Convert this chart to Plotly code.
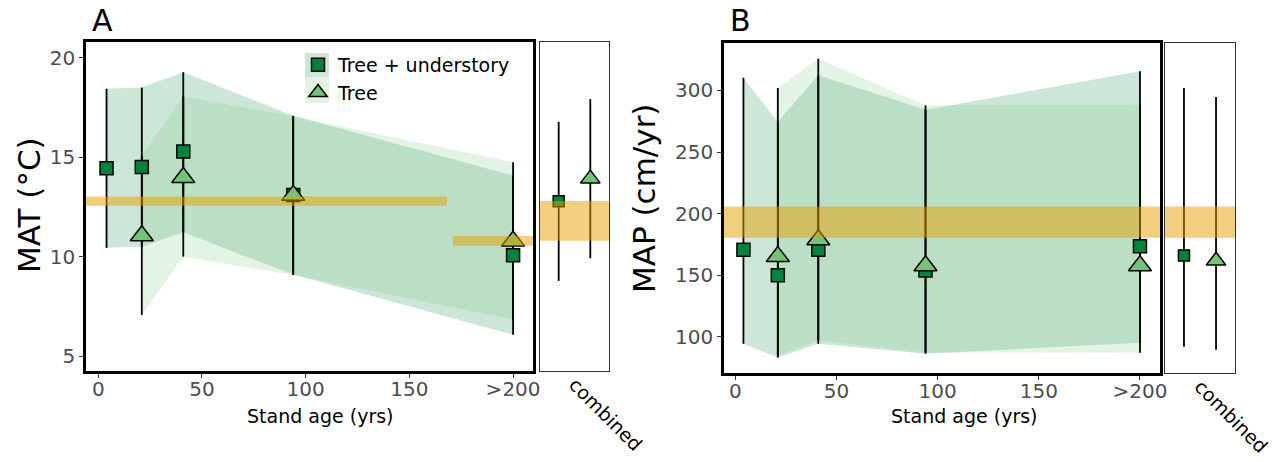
import plotly.graph_objects as go

# ---------------- data ----------------
AGES = [4, 21, 41, 94, 200]
AGES_TREE = [21, 41, 94, 200]
AGE_TICKS = [0, 50, 100, 150, 200]
AGE_TICK_LABELS = ["0", "50", "100", "150", ">200"]

MAT_TU_MEAN = [14.44, 14.50, 15.28, 13.10, 10.07]
MAT_TU_LO = [10.44, 10.50, 11.22, 9.10, 6.07]
MAT_TU_HI = [18.44, 18.50, 19.27, 17.08, 14.07]
MAT_T_MEAN = [11.05, 13.98, 13.08, 10.78]
MAT_T_LO = [7.07, 10.00, 9.08, 6.84]
MAT_T_HI = [15.07, 18.05, 17.05, 14.75]
MAT_COMB_TU = [12.78, 8.78, 16.78]   # mean, lo, hi
MAT_COMB_T = [13.92, 9.92, 17.92]
MAT_REF_FROM = [-10, 171]
MAT_REF_TO = [168, 220]
MAT_REF_LO = [12.56, 10.55]
MAT_REF_HI = [13.02, 11.04]
MAT_COMB_REF = [10.8, 12.8]
MAT_TICKS = [5, 10, 15, 20]

MAP_TU_MEAN = [170.8, 150.0, 170.8, 154.0, 173.5]
MAP_TU_LO = [94.6, 83.3, 94.6, 86.5, 95.4]
MAP_TU_HI = [310.3, 274.3, 312.2, 284.3, 315.4]
MAP_T_MEAN = [165.3, 178.9, 157.8, 157.8]
MAP_T_LO = [85.2, 97.3, 87.5, 87.3]
MAP_T_HI = [301.9, 325.7, 287.8, 288.4]
MAP_COMB_TU = [166.0, 92.0, 301.9]
MAP_COMB_T = [161.8, 89.7, 294.6]
MAP_REF_FROM = [-10]
MAP_REF_TO = [220]
MAP_REF_LO = [180.5]
MAP_REF_HI = [205.9]
MAP_COMB_REF = [180.5, 205.9]
MAP_TICKS = [100, 150, 200, 250, 300]

SERIES = ["Tree + understory", "Tree"]
COMB_LABEL = "combined"

# ---------------- style ----------------
FONT = "DejaVu Sans"
C_TU = "#00843D"
C_T = "#74C476"
RIB_TU = "rgba(0,132,61,0.2)"
RIB_T = "rgba(116,196,118,0.2)"
REF = "rgba(230,159,0,0.5)"
X_RANGE_A = [-5.9, 209.6]
X_RANGE_B = [-5.6, 209.9]
Y_RANGE_A = [4.25, 20.79]
Y_RANGE_B = [70.8, 338.4]
COMB_RANGE = [0.4, 1.6]
COMB_X = 1.0
DODGE = 0.275

fig = go.Figure()


def ribbon(xs, lo, hi, color, xa, ya):
    fig.add_trace(go.Scatter(
        x=list(xs) + list(xs)[::-1], y=list(hi) + list(lo)[::-1],
        mode="lines", fill="toself", fillcolor=color, line=dict(width=0),
        showlegend=False, hoverinfo="skip", xaxis=xa, yaxis=ya))


def errbars(xs, mean, lo, hi, xa, ya):
    fig.add_trace(go.Scatter(
        x=xs, y=mean, mode="markers", marker=dict(size=2, opacity=0),
        error_y=dict(type="data", symmetric=False,
                     array=[h - m for h, m in zip(hi, mean)],
                     arrayminus=[m - l for l, m in zip(lo, mean)],
                     color="black", thickness=1.8, width=0),
        showlegend=False, hoverinfo="skip", xaxis=xa, yaxis=ya))


def points(xs, mean, symbol, size, color, name, legend, xa, ya):
    fig.add_trace(go.Scatter(
        x=xs, y=mean, mode="markers", name=name, showlegend=legend,
        marker=dict(symbol=symbol, size=size, color=color,
                    line=dict(color="black", width=1.5)),
        xaxis=xa, yaxis=ya))


def band(x0s, x1s, los, his, xa, ya):
    for x0, x1, lo, hi in zip(x0s, x1s, los, his):
        fig.add_trace(go.Scatter(
            x=[x0, x1, x1, x0, x0], y=[lo, lo, hi, hi, lo],
            mode="lines", fill="toself", fillcolor=REF, line=dict(width=0),
            showlegend=False, hoverinfo="skip", xaxis=xa, yaxis=ya))


def panel(tu_m, tu_lo, tu_hi, t_m, t_lo, t_hi, c_tu, c_t,
          ref_from, ref_to, ref_lo, ref_hi, comb_ref, xa, ya, xc, yc, legend):
    ribbon(AGES, tu_lo, tu_hi, RIB_TU, xa, ya)
    ribbon(AGES_TREE, t_lo, t_hi, RIB_T, xa, ya)
    errbars(AGES, tu_m, tu_lo, tu_hi, xa, ya)
    errbars(AGES_TREE, t_m, t_lo, t_hi, xa, ya)
    points(AGES, tu_m, "square", 13, C_TU, SERIES[0], legend, xa, ya)
    points(AGES_TREE, t_m, "triangle-up", 20, C_T, SERIES[1], legend, xa, ya)
    band(ref_from, ref_to, ref_lo, ref_hi, xa, ya)
    # combined panel
    cx = [COMB_X - DODGE, COMB_X + DODGE]
    errbars([cx[0]], [c_tu[0]], [c_tu[1]], [c_tu[2]], xc, yc)
    errbars([cx[1]], [c_t[0]], [c_t[1]], [c_t[2]], xc, yc)
    points([cx[0]], [c_tu[0]], "square", 11, C_TU, SERIES[0], False, xc, yc)
    points([cx[1]], [c_t[0]], "triangle-up", 17, C_T, SERIES[1], False, xc, yc)
    band([COMB_RANGE[0] - 1], [COMB_RANGE[1] + 1], [comb_ref[0]], [comb_ref[1]], xc, yc)


panel(MAT_TU_MEAN, MAT_TU_LO, MAT_TU_HI, MAT_T_MEAN, MAT_T_LO, MAT_T_HI,
      MAT_COMB_TU, MAT_COMB_T, MAT_REF_FROM, MAT_REF_TO, MAT_REF_LO, MAT_REF_HI,
      MAT_COMB_REF, "x", "y", "x2", "y2", True)
panel(MAP_TU_MEAN, MAP_TU_LO, MAP_TU_HI, MAP_T_MEAN, MAP_T_LO, MAP_T_HI,
      MAP_COMB_TU, MAP_COMB_T, MAP_REF_FROM, MAP_REF_TO, MAP_REF_LO, MAP_REF_HI,
      MAP_COMB_REF, "x3", "y3", "x4", "y4", False)

W, H = 1280, 462


def px(a, b):
    return [a / W, b / W]


def py(top, bottom):
    return [1 - bottom / H, 1 - top / H]


tickfont = dict(family=FONT, size=20, color="#4d4d4d")
main_x = dict(showgrid=False, zeroline=False, showline=True, mirror=True, automargin=False,
              linecolor="black", linewidth=2.5, ticks="outside", ticklen=4,
              tickcolor="#333333", tickvals=AGE_TICKS, ticktext=AGE_TICK_LABELS,
              tickfont=tickfont, ticklabelstandoff=-6)
main_y = dict(showgrid=False, zeroline=False, showline=True, mirror=True, automargin=False,
              linecolor="black", linewidth=2.5, ticks="outside", ticklen=4,
              tickcolor="#333333", tickfont=tickfont)
comb_x = dict(showgrid=False, zeroline=False, showline=True, mirror=True, automargin=False,
              linecolor="#333333", linewidth=1.2, ticks="", range=COMB_RANGE,
              tickvals=[COMB_X], ticktext=[COMB_LABEL], tickangle=45,
              tickfont=dict(family=FONT, size=19, color="black"), ticklabelstandoff=-6)
comb_y = dict(showgrid=False, zeroline=False, showline=True, mirror=True, automargin=False,
              linecolor="#333333", linewidth=1.2, ticks="", showticklabels=False)

fig.update_layout(
    width=W, height=H, margin=dict(l=0, r=0, t=0, b=0, autoexpand=False),
    paper_bgcolor="white", plot_bgcolor="white",
    font=dict(family=FONT, color="black"),
    xaxis=dict(main_x, domain=px(86, 533), range=X_RANGE_A, anchor="y"),
    yaxis=dict(main_y, domain=py(42, 371), range=Y_RANGE_A, tickvals=MAT_TICKS, anchor="x"),
    xaxis2=dict(comb_x, domain=px(540, 609), anchor="y2"),
    yaxis2=dict(comb_y, domain=py(42, 371), range=Y_RANGE_A, anchor="x2"),
    xaxis3=dict(main_x, domain=px(724, 1160), range=X_RANGE_B, anchor="y3"),
    yaxis3=dict(main_y, domain=py(43, 373), range=Y_RANGE_B, tickvals=MAP_TICKS, anchor="x3"),
    xaxis4=dict(comb_x, domain=px(1165, 1235), anchor="y4"),
    yaxis4=dict(comb_y, domain=py(43, 373), range=Y_RANGE_B, anchor="x4"),
    legend=dict(x=298 / W, y=1 - 46 / H, xanchor="left", yanchor="top",
                bgcolor="rgba(0,0,0,0)", font=dict(family=FONT, size=19, color="black"),
                itemsizing="trace", tracegroupgap=0),
    showlegend=True,
)

ann = [
    dict(text="A", x=90 / W, y=1 - 21 / H, xanchor="left", yanchor="middle", font=dict(size=30)),
    dict(text="B", x=728 / W, y=1 - 21 / H, xanchor="left", yanchor="middle", font=dict(size=30)),
    dict(text="MAT (°C)", x=29 / W, y=1 - 205 / H, xanchor="center", yanchor="middle",
         textangle=-90, font=dict(size=31)),
    dict(text="MAP (cm/yr)", x=644 / W, y=1 - 199 / H, xanchor="center", yanchor="middle",
         textangle=-90, font=dict(size=31)),
    dict(text="Stand age (yrs)", x=320 / W, y=1 - 416 / H, xanchor="center", yanchor="middle",
         font=dict(size=19)),
    dict(text="Stand age (yrs)", x=964 / W, y=1 - 416 / H, xanchor="center", yanchor="middle",
         font=dict(size=19)),
]
for a in ann:
    a.update(xref="paper", yref="paper", showarrow=False)
    a["font"] = dict(family=FONT, color="black", **a["font"])
fig.update_layout(annotations=ann)

# legend key backgrounds
fig.update_layout(shapes=[
    dict(type="rect", xref="paper", yref="paper", x0=305 / W, x1=329 / W,
         y0=1 - 77 / H, y1=1 - 53 / H, fillcolor=RIB_TU, line=dict(width=0), layer="above"),
    dict(type="rect", xref="paper", yref="paper", x0=305 / W, x1=329 / W,
         y0=1 - 103 / H, y1=1 - 77 / H, fillcolor=RIB_T, line=dict(width=0), layer="above"),
])

fig.write_html("out.html")
